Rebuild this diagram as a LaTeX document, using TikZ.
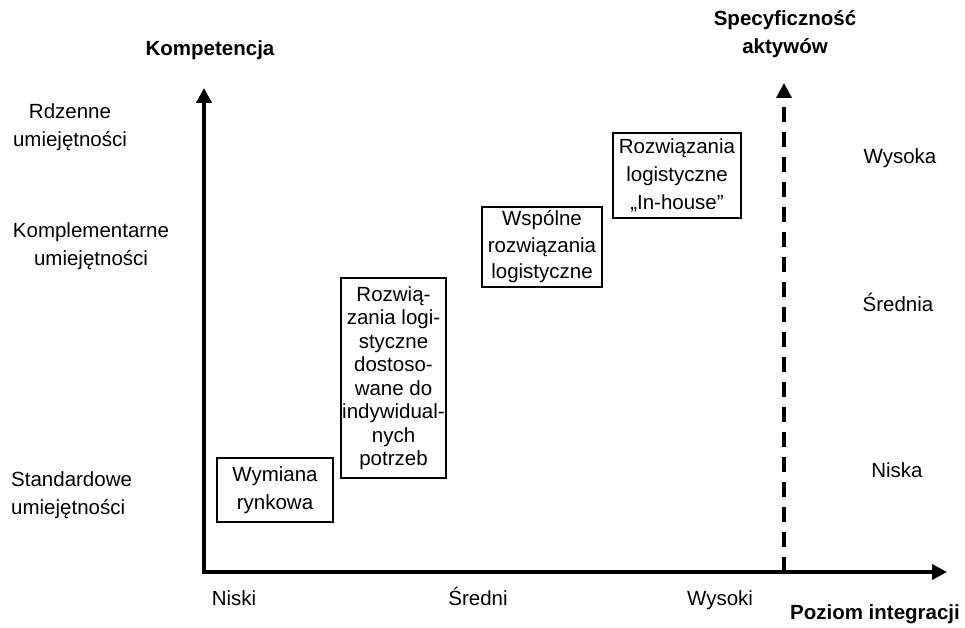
\documentclass[tikz,border=0pt]{standalone}
\usepackage{fontspec}
\setmainfont{Liberation Sans}
\usetikzlibrary{arrows.meta,positioning,calc}
\tikzset{
  axis/.style={line width=4pt, -{Triangle[length=15pt,width=15pt]}},
  specaxis/.style={line width=3.5pt, dash pattern=on 15pt off 10pt, -{Triangle[length=15pt,width=15pt]}},
  box/.style={draw, line width=1.8pt, align=center, inner sep=0pt},
  lbl/.style={align=center, inner sep=0pt},
  title/.style={align=center, inner sep=0pt, font=\bfseries}
}
\begin{document}
\fontsize{20.5}{28}\selectfont
\begin{tikzpicture}[x=1pt, y=-1pt]
  \useasboundingbox (0,0) rectangle (965,628);
  % axes
  \coordinate (o) at (204,572);
  \coordinate (ytop) at (204,88);
  \coordinate (xend) at (947,572);
  \coordinate (dbot) at (784,572);
  \coordinate (dtop) at (784,83);
  \draw[axis] (o) -- (ytop);
  \draw[axis] ($(o)+(-2,0)$) -- (xend);
  \draw[specaxis] (dbot) -- (dtop);
  % titles
  \node[title] (komp) at (210,50) {Kompetencja};
  \node[title] (spec) at (785,34) {Specyficzność\\aktywów};
  \node[title] (poziom) at (875,614) {Poziom integracji};
  % left labels
  \node[lbl] (rdz) at (70,127) {Rdzenne\\umiejętności};
  \node[lbl] (kompl) at (91,246) {Komplementarne\\umiejętności};
  \node[lbl, align=left, anchor=west] (std) at (11,495) {Standardowe\\umiejętności};
  % right labels
  \node[lbl] (wys) at (900,158) {Wysoka};
  \node[lbl] (sre) at (898,302) {Średnia};
  \node[lbl] (nis) at (897,470) {Niska};
  % bottom labels
  \node[lbl, anchor=base] (niski) at (234,605) {Niski};
  \node[lbl, anchor=base] (sredni) at (478,605) {Średni};
  \node[lbl, anchor=base] (wysoki) at (720,605) {Wysoki};
  % boxes
  \node[box, minimum width=116pt, minimum height=64pt] (rynek) at (275,490)
    {Wymiana\\rynkowa};
  \node[box, minimum width=105pt, minimum height=200pt, font=\fontsize{20.5}{23.5}\selectfont]
    (indyw) at (393.5,378)
    {Rozwią-\\zania logi-\\styczne\\dostoso-\\wane do\\indywidual-\\nych\\potrzeb};
  \node[box, minimum width=120pt, minimum height=80pt, font=\fontsize{20.5}{26.5}\selectfont]
    (wspol) at (542,247) {Wspólne\\rozwiązania\\logistyczne};
  \node[box, minimum width=128pt, minimum height=85pt] (inhouse) at (677,175.5)
    {Rozwiązania\\logistyczne\\„In-house”};
\end{tikzpicture}
\end{document}
